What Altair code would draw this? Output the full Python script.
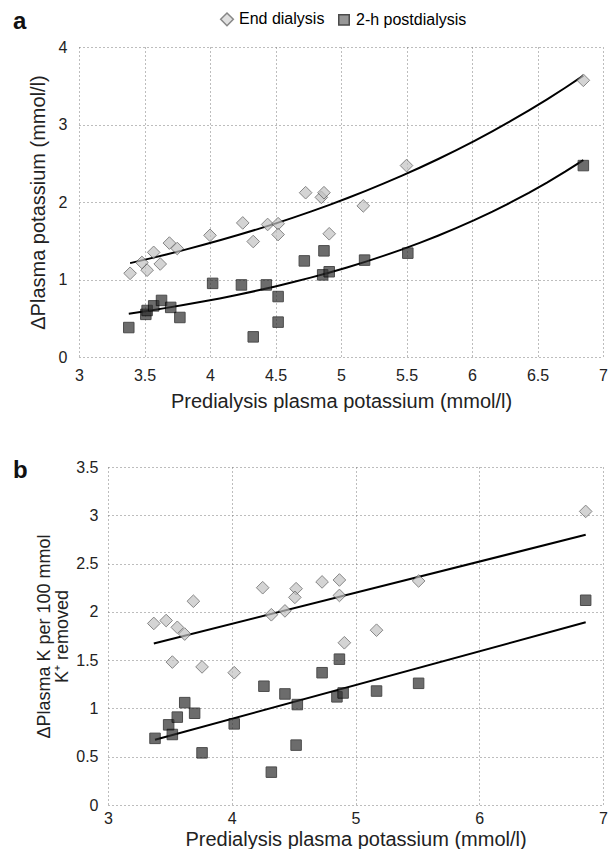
import altair as alt
import pandas as pd

# ---------------- data ----------------
series_names = ["End dialysis", "2-h postdialysis"]

# Panel a: change in plasma potassium (mmol/l)
a_end_x = [3.39, 3.48, 3.52, 3.57, 3.62, 3.69, 3.75, 4.00, 4.25, 4.33,
           4.44, 4.52, 4.52, 4.73, 4.85, 4.87, 4.91, 5.17, 5.50, 6.85]
a_end_y = [1.08, 1.22, 1.12, 1.35, 1.20, 1.47, 1.40, 1.57, 1.73, 1.49,
           1.71, 1.72, 1.58, 2.12, 2.06, 2.12, 1.59, 1.95, 2.47, 3.57]
a_post_x = [3.38, 3.51, 3.52, 3.57, 3.63, 3.70, 3.77, 4.02, 4.24, 4.33,
            4.43, 4.52, 4.52, 4.72, 4.87, 4.86, 4.91, 5.18, 5.51, 6.85]
a_post_y = [0.38, 0.55, 0.60, 0.66, 0.73, 0.64, 0.51, 0.95, 0.93, 0.26,
            0.93, 0.45, 0.78, 1.24, 1.37, 1.06, 1.10, 1.25, 1.34, 2.47]

# Panel b: change in plasma K per 100 mmol K+ removed
b_end_x = [3.37, 3.47, 3.56, 3.62, 3.69, 3.52, 3.76, 4.02, 4.25, 4.32,
           4.43, 4.52, 4.51, 4.73, 4.87, 4.87, 4.91, 5.17, 5.51, 6.86]
b_end_y = [1.88, 1.91, 1.84, 1.77, 2.11, 1.48, 1.43, 1.37, 2.25, 1.97,
           2.01, 2.24, 2.15, 2.31, 2.33, 2.17, 1.68, 1.81, 2.32, 3.04]
b_post_x = [3.38, 3.49, 3.52, 3.56, 3.62, 3.70, 3.76, 4.02, 4.26, 4.32,
            4.43, 4.53, 4.52, 4.73, 4.87, 4.85, 4.90, 5.17, 5.51, 6.86]
b_post_y = [0.69, 0.83, 0.73, 0.91, 1.06, 0.95, 0.54, 0.84, 1.23, 0.34,
            1.15, 1.04, 0.62, 1.37, 1.51, 1.12, 1.16, 1.18, 1.26, 2.12]

a_x_ticks = [3, 3.5, 4, 4.5, 5, 5.5, 6, 6.5, 7]
a_y_ticks = [0, 0.5, 1, 1.5, 2, 2.5, 3, 3.5, 4]
b_x_ticks = [3, 4, 5, 6, 7]
b_y_ticks = [0, 0.5, 1, 1.5, 2, 2.5, 3, 3.5]

x_title = "Predialysis plasma potassium (mmol/l)"
a_y_title = "\u0394Plasma potassium (mmol/l)"
b_y_title = ["\u0394Plasma K per 100 mmol", "K\u207a removed"]


def frame(ex, ey, px, py):
    return pd.DataFrame({
        "x": list(ex) + list(px),
        "y": list(ey) + list(py),
        "series": [series_names[0]] * len(ex) + [series_names[1]] * len(px),
    })


df_a = frame(a_end_x, a_end_y, a_post_x, a_post_y)
df_b = frame(b_end_x, b_end_y, b_post_x, b_post_y)

FONT = "Liberation Sans"
AX = dict(grid=True, gridColor="#7a7a7a", gridDash=[1, 3], gridWidth=1,
          domain=False, ticks=False, labelFont=FONT, titleFont=FONT,
          labelFontSize=16, labelColor="#222", titleColor="#222",
          titleFontWeight="normal", format="~g", labelFlush=False)


def panel(df, xt, yt, ytitle, w, h, ydom, xrange, y_off, method, letter,
          letter_dy, show_legend, lab_pad_y, title_pad_y, y_title_size,
          lab_pad_x, title_pad_x):
    leg = (alt.Legend(title=None, orient="none", direction="horizontal",
                      legendX=140, legendY=-36, labelFontSize=16,
                      labelFont=FONT)
           if show_legend else None)
    x = alt.X("x:Q", title=x_title,
              scale=alt.Scale(domain=[3, 7], nice=False, zero=False,
                              range=xrange),
              axis=alt.Axis(values=xt, labelPadding=lab_pad_x,
                            titlePadding=title_pad_x, titleFontSize=20, **AX))
    y = alt.Y("y:Q", title=ytitle,
              scale=alt.Scale(domain=ydom, nice=False),
              axis=alt.Axis(values=yt, labelPadding=lab_pad_y, offset=y_off,
                            titlePadding=title_pad_y, titleFontSize=y_title_size,
                            titleLineHeight=y_title_size, **AX))
    pts = alt.Chart(df).mark_point(filled=True, strokeWidth=1).encode(
        x=x, y=y,
        shape=alt.Shape("series:N", scale=alt.Scale(domain=series_names,
                                                    range=["diamond", "square"]),
                        legend=leg),
        fill=alt.Fill("series:N", scale=alt.Scale(domain=series_names,
                                                  range=["#c2c2c2", "#2e2e2e"]),
                      legend=leg),
        stroke=alt.Stroke("series:N", scale=alt.Scale(domain=series_names,
                                                      range=["#555555", "#000000"]),
                          legend=leg),
        size=alt.Size("series:N", scale=alt.Scale(domain=series_names,
                                                  range=[160, 110]),
                      legend=leg),
    )
    fit = alt.Chart(df).transform_regression(
        "x", "y", method=method, groupby=["series"]
    ).mark_line(color="black", strokeWidth=2).encode(
        x=alt.X("x:Q"), y=alt.Y("y:Q"), detail="series:N"
    )
    return alt.layer(fit, pts).properties(
        width=w, height=h,
        title=alt.TitleParams(letter, anchor="start", frame="group", dx=-66,
                              dy=letter_dy, font=FONT, fontSize=24, offset=6,
                              fontWeight="bold", color="#111"),
    )


pa = panel(df_a, a_x_ticks, a_y_ticks, a_y_title, 524, 310, [0, 4], [0, 524], 0,
           "exp", "a", 29, True, 12, 10, 20, 10, 8)
pb = panel(df_b, b_x_ticks, b_y_ticks, b_y_title, 524, 338, [0, 3.5], [29, 524],
           -29, "linear", "b", 30, False, 10, 4, 18, 5, 3)

chart = alt.vconcat(pa, pb, spacing=48).resolve_scale(
    shape="independent", fill="independent", stroke="independent",
    size="independent", x="independent", y="independent"
).properties(
    padding={"left": 5, "top": 2, "right": 0, "bottom": 0}
).configure_view(stroke=None)

chart.save("out.html", embed_options={"renderer": "svg", "actions": False})
